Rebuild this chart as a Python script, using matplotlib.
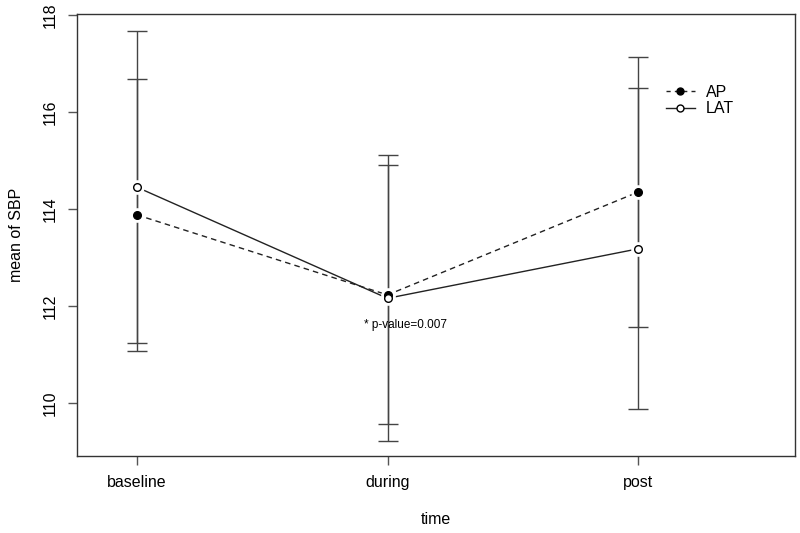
import matplotlib
matplotlib.use('Agg')
import matplotlib.pyplot as plt
import numpy as np

plt.rcParams['font.family'] = ['Liberation Sans', 'DejaVu Sans']

time_labels = ['baseline', 'during', 'post']
ap_mean = [113.88, 112.23, 114.35]
ap_err = [2.80, 2.67, 2.78]
lat_mean = [114.45, 112.16, 113.18]
lat_err = [3.22, 2.95, 3.31]
yticks = [110, 112, 114, 116, 118]

x = np.arange(1, len(time_labels) + 1)

fig = plt.figure(figsize=(8, 5.33), dpi=100)
ax = fig.add_axes([0.096, 0.1445, 0.898, 0.8292])

# error bars first (grey), then lines and points
ax.errorbar(x, ap_mean, yerr=ap_err, fmt='none', ecolor='#444444',
            elinewidth=1, capsize=7, capthick=1, zorder=1)
ax.errorbar(x, lat_mean, yerr=lat_err, fmt='none', ecolor='#444444',
            elinewidth=1, capsize=7, capthick=1, zorder=1)

ax.plot(x, ap_mean, color='#222222', lw=1, dashes=(4, 3), zorder=2)
ax.plot(x, lat_mean, color='#222222', lw=1, zorder=2)

# white halo so lines stop short of the points, like R type="b"
ax.plot(x, ap_mean, 'o', ms=9.5, color='white', mec='white', zorder=3)
ax.plot(x, lat_mean, 'o', ms=9.5, color='white', mec='white', zorder=3)
ax.plot(x, ap_mean, 'o', ms=5.5, color='black', mec='black', zorder=4)
ax.plot(x, lat_mean, 'o', ms=5.5, mfc='white', mec='black', mew=1, zorder=4)

ax.text(2.07, 111.62, '* p-value=0.007', fontsize=8.5, ha='center', va='center')

# legend like R (no box)
h_ap, = ax.plot([], [], color='#222222', lw=1, dashes=(3, 3), marker='o',
                ms=5, mfc='black', mec='black')
h_lat, = ax.plot([], [], color='#222222', lw=1, marker='o', ms=5,
                 mfc='white', mec='black')
ax.legend([h_ap, h_lat], ['AP', 'LAT'], frameon=False, loc='upper left',
          bbox_to_anchor=(0.8, 0.873), fontsize=11.5, handlelength=1.8,
          handletextpad=0.7, labelspacing=0.1)

ax.set_xlim(0.76, 3.627)
ax.set_ylim(108.91, 118.02)
ax.set_xticks(x)
ax.set_xticklabels(time_labels, fontsize=11.5)
ax.set_yticks(yticks)
ax.set_yticklabels([str(t) for t in yticks], rotation=90, va='center', fontsize=11.5)
ax.tick_params(length=6.5, width=1, color='#555555', pad=7)
for s in ax.spines.values():
    s.set_color('#333333')
    s.set_linewidth(1)

ax.set_xlabel('time', fontsize=11.5, labelpad=16)
ax.set_ylabel('mean of SBP', fontsize=11.5, labelpad=14)

fig.savefig('out.png', dpi=100)
